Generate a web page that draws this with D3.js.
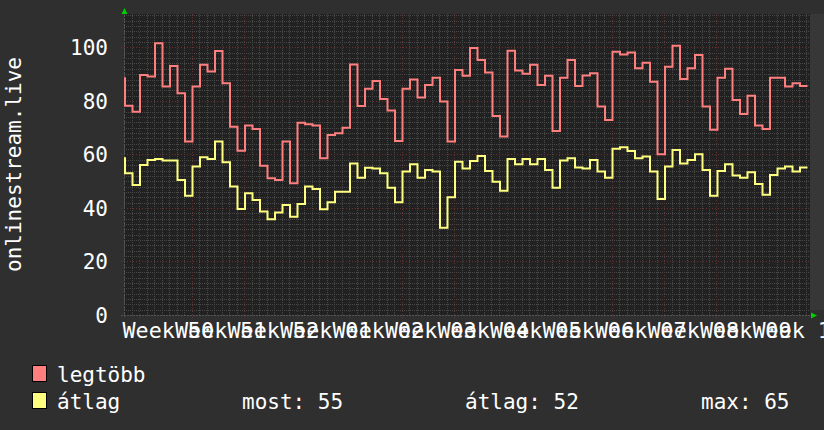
<!DOCTYPE html>
<html><head><meta charset="utf-8">
<script src="https://cdn.jsdelivr.net/npm/d3@7"></script>
<style>html,body{margin:0;padding:0;background:#2f2f2f;overflow:hidden} svg{display:block}</style>
</head><body><svg id="c" width="824" height="430"></svg>
<script>
// ---- data ----
const weekLabels = ["Week 50","Week 51","Week 52","Week 01","Week 02","Week 03","Week 04","Week 05","Week 06","Week 07","Week 08","Week 09","Week 10"];
const yTicks = [0, 20, 40, 60, 80, 100];
const seriesNames = ["legtöbb", "átlag"];
const avgStats = ["most: 55", "átlag: 52", "max: 65"];
const yTitle = "onlinestream.live";
// daily values (legtöbb = max, átlag = average)
const maxValues = [88.5,78.2,76.0,89.7,89.1,101.6,85.4,93.1,82.9,64.8,85.4,93.5,91.0,98.7,86.6,70.4,61.4,70.8,69.5,55.8,
  51.1,50.5,64.8,49.2,71.9,71.3,70.8,58.6,67.3,67.9,70.0,93.6,78.1,84.6,87.5,80.7,76.4,65.0,84.6,88.0,
  81.3,86.0,88.7,79.8,64.8,91.6,89.4,99.8,95.3,90.6,74.4,66.7,98.8,91.4,90.2,93.5,86.0,89.4,68.8,88.7,
  95.3,85.6,89.5,90.4,77.9,72.9,98.4,97.4,98.1,92.2,94.3,87.2,60.1,92.8,100.6,88.2,92.2,97.2,77.9,69.2,
  88.7,92.0,80.4,75.1,81.9,70.8,69.5,88.7,88.7,85.4,86.6,85.6];
const avgValues = [58.6,53.0,48.6,56.1,57.9,58.3,57.7,57.7,50.5,44.6,55.5,59.0,58.3,64.8,57.1,48.0,39.6,45.5,43.0,38.7,
  35.8,38.3,41.1,36.7,41.5,48.0,47.1,39.5,42.1,46.1,46.1,56.6,51.3,55.0,54.8,53.0,47.6,42.1,53.6,56.3,
  51.3,54.2,53.6,32.6,44.0,57.3,54.8,57.6,59.4,53.8,49.8,46.4,58.3,56.3,58.3,56.3,58.3,54.2,47.6,57.7,
  58.6,55.1,54.8,57.9,53.6,51.3,62.1,62.7,61.3,58.6,59.2,53.6,43.4,55.5,61.7,56.6,57.9,60.1,54.2,44.6,
  53.8,56.3,52.1,51.3,53.4,49.0,44.9,52.3,54.8,55.5,53.6,55.1];

// ---- layout ----
const L = 124, R = 810, T = 14, B = 315;
const spanDays = (R - L) / 7.5;       // one day = 7.5 px
const stepOffset = 0.1333;            // day boundary offset of samples
const firstMajor = 2;                 // first week boundary (day index)
const colors = { max: "#ff7f7f", avg: "#ffff7f" };
const font = "'DejaVu Sans Mono', 'Liberation Mono', monospace";

const svg = d3.select("#c");
const x = d3.scaleLinear().domain([0, spanDays]).range([L, R]);
const y = d3.scaleLinear().domain([0, 112.5]).range([B, T]);

svg.append("rect").attr("width", 824).attr("height", 430).attr("fill", "#2f2f2f");
svg.append("rect").attr("x", R).attr("y", T).attr("width", 824 - R).attr("height", 296).attr("fill", "#373737");
svg.append("rect").attr("x", L).attr("y", T).attr("width", R - L).attr("height", B - T).attr("fill", "#212121");

const g = svg.append("g");
// minor grid
const days = d3.range(0, Math.floor(spanDays) + 1);
const majorDays = days.filter(d => d >= firstMajor && (d - firstMajor) % 7 === 0);
g.selectAll(".vmin").data(days.filter(d => !majorDays.includes(d))).join("line")
  .attr("x1", d => Math.round(x(d)) + 0.5).attr("x2", d => Math.round(x(d)) + 0.5)
  .attr("y1", T).attr("y2", B).attr("stroke", "#484848").attr("stroke-dasharray", "1,1");
const hMinor = d3.range(2, 113, 2).filter(v => v % 20 !== 0);
g.selectAll(".hmin").data(hMinor).join("line")
  .attr("x1", L).attr("x2", R)
  .attr("y1", d => Math.round(y(d)) + 0.5).attr("y2", d => Math.round(y(d)) + 0.5)
  .attr("stroke", "#484848").attr("stroke-dasharray", "1,1");
// major grid
g.selectAll(".vmaj").data(majorDays).join("line")
  .attr("x1", d => Math.round(x(d)) + 0.5).attr("x2", d => Math.round(x(d)) + 0.5)
  .attr("y1", T).attr("y2", B + 4).attr("stroke", "#6a3030").attr("stroke-dasharray", "1,2");
g.selectAll(".hmaj").data(yTicks.filter(v => v > 0)).join("line")
  .attr("x1", L - 3).attr("x2", R)
  .attr("y1", d => Math.round(y(d)) + 0.5).attr("y2", d => Math.round(y(d)) + 0.5)
  .attr("stroke", "#6a3030").attr("stroke-dasharray", "1,2");

// axes lines
svg.append("line").attr("x1", L - 3).attr("x2", R + 2).attr("y1", B + 0.5).attr("y2", B + 0.5)
  .attr("stroke", "#555555").attr("stroke-dasharray", "2,1");
svg.append("line").attr("x1", L + 0.5).attr("x2", L + 0.5).attr("y1", T - 2).attr("y2", B + 3)
  .attr("stroke", "#555555").attr("stroke-dasharray", "2,1");
// arrows
svg.append("path").attr("d", `M${L-2.5},${T}L${L+3.5},${T}L${L+0.5},${T-6}Z`).attr("fill", "#00d000");
svg.append("path").attr("d", `M${R+1},${B-2.5}L${R+1},${B+3.5}L${R+7},${B+0.5}Z`).attr("fill", "#00d000");

// series lines
function pts(vals) {
  const p = vals.map((v, i) => [Math.max(0, i - 1 + stepOffset), v]);
  p.push([vals.length - 1 + stepOffset, vals[vals.length - 1]]);
  return p;
}
const line = d3.line().x(d => x(d[0])).y(d => y(d[1])).curve(d3.curveStepAfter);
svg.append("path").attr("d", line(pts(maxValues))).attr("fill", "none")
  .attr("stroke", colors.max).attr("stroke-width", 2);
svg.append("path").attr("d", line(pts(avgValues))).attr("fill", "none")
  .attr("stroke", colors.avg).attr("stroke-width", 2);

// y tick labels
svg.selectAll(".yt").data(yTicks).join("text")
  .attr("x", 108).attr("y", d => y(d) + 7.6)
  .attr("text-anchor", "end").attr("fill", "#ffffff")
  .style("font-family", font).style("font-size", "21px").text(d => d);
// x labels (centred in each week, as in the reference they overlap)
svg.selectAll(".xt").data(weekLabels).join("text")
  .attr("x", (d, i) => x(firstMajor + 3.5 + 7 * i) + 3).attr("y", 337.5)
  .attr("text-anchor", "middle").attr("fill", "#ffffff")
  .style("font-family", font).style("font-size", "21.7px").text(d => d);
// y title
svg.append("text").attr("transform", "translate(20.5,164.5) rotate(-90)")
  .attr("text-anchor", "middle").attr("fill", "#ffffff")
  .style("font-family", font).style("font-size", "21px").text(yTitle);

// legend
const leg = [{ name: seriesNames[0], c: colors.max, yb: 381.5 }, { name: seriesNames[1], c: colors.avg, yb: 408.5 }];
leg.forEach(d => {
  svg.append("rect").attr("x", 32.5).attr("y", d.yb - 16).attr("width", 14).attr("height", 16)
    .attr("fill", d.c).attr("stroke", "#000").attr("stroke-width", 1);
  svg.append("text").attr("x", 57).attr("y", d.yb).attr("fill", "#fff")
    .style("font-family", font).style("font-size", "21px").text(d.name);
});
const statX = [242, 465, 701];
avgStats.forEach((s, i) => {
  svg.append("text").attr("x", statX[i]).attr("y", 408.5).attr("fill", "#fff")
    .style("font-family", font).style("font-size", "21px").text(s);
});
</script></body></html>
